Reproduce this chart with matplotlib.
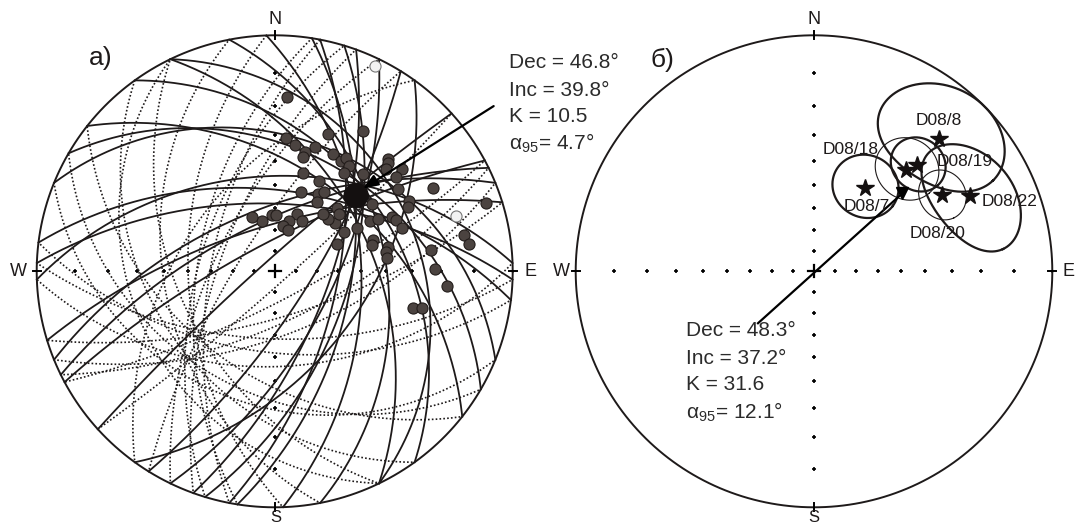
import numpy as np
import matplotlib
matplotlib.use("Agg")
import matplotlib.pyplot as plt

plt.rcParams['font.family'] = ['Liberation Sans', 'DejaVu Sans']
plt.rcParams['mathtext.fontset'] = 'custom'
plt.rcParams['mathtext.rm'] = 'Liberation Sans'
plt.rcParams['mathtext.it'] = 'Liberation Sans:italic'

# ---- panel a: ChRM directions (lower hemisphere) ----
dec_a = [4, 5, 9, 14, 18, 14, 21, 32, 26, 31, 32, 35, 35, 16, 26, 18, 29, 32, 31, 42,
         45, 46, 47, 51, 52, 56, 62, 62, 64, 72, 79, 82, 82, 89, 95, 105, 104, 78, 80, 83,
         72, 75, 62, 60, 66, 51, 45, 40, 44, 48, 55, 62, 63, 65, 67, 71, 21, 28, 16, 10,
         18, 357, 346, 1, 337]
inc_a = [17, 31, 33, 35, 32, 37, 26, 20, 32, 33, 31, 33, 36, 43, 44, 51, 49, 47, 52, 32,
         22, 23, 25, 21, 24, 26, 16, 25, 26, 4, 12, 11, 23, 22, 18, 28, 25, 38, 39, 39,
         43, 44, 47, 53, 58, 54, 55, 55, 49, 50, 37, 41, 38, 33, 32, 31, 61, 63, 65, 68,
         69, 63, 65, 63, 62]
# upper hemisphere (open symbols)
dec_up = [26, 73]
inc_up = [-2, -13]

# remagnetization great circles: dip direction / dip
gc_dipdir = [79, 99, 101, 107, 110, 318, 332, 334, 338, 343, 358, 7, 30, 38, 54, 64,
             116, 122, 2, 88, 64, 22, 126]
gc_dip = [40, 54, 60, 55, 64, 84, 76, 66, 60, 68, 46, 52, 36, 44, 36, 46,
          62, 73, 58, 50, 28, 31, 48]

mean_a = (46.8, 39.8, 10.5, 4.7)   # dec, inc, K, a95

# ---- panel b: site means ----
site_names = ['D08/7', 'D08/18', 'D08/19', 'D08/8', 'D08/20', 'D08/22']
site_dec = [31, 42, 44, 43, 59, 64]
site_inc = [45, 30, 26, 15, 26, 18]
site_major = [14, 12, 10, 21, 9, 20]     # oval semi-axes, degrees
site_minor = [13, 11, 9, 15, 8, 12.5]
site_rot = [0, 0, 0, 13, 0, 13]          # major-axis rotation from dec direction
mean_b = (48.3, 37.2, 31.6, 12.1)

tick_inc = [10, 20, 30, 40, 50, 60, 70, 80]

W, H = 1075, 526
fig = plt.figure(figsize=(W / 100, H / 100), dpi=100)
INK = '#1e1a1a'


def px_axes(x0, x1, y0, y1):
    ax = fig.add_axes([x0 / W, 1 - y1 / H, (x1 - x0) / W, (y1 - y0) / H])
    ax.set_xlim(-1, 1)
    ax.set_ylim(-1, 1)
    ax.axis('off')
    return ax


def ftext(x, y, s, **kw):
    fig.text(x / W, 1 - y / H, s, **kw)


def vec(dec, inc):
    d, i = np.radians(dec), np.radians(inc)
    return np.array([np.cos(i) * np.cos(d), np.cos(i) * np.sin(d), np.sin(i)])


def proj(v):
    n, e, z = v
    return e / (1 + np.abs(z)), n / (1 + np.abs(z))


def proj_di(dec, inc):
    return proj(vec(np.asarray(dec, float), np.asarray(inc, float)))


def net(ax):
    t = np.linspace(0, 2 * np.pi, 500)
    ax.plot(np.cos(t), np.sin(t), color=INK, lw=1.4, clip_on=False)
    r = np.tan(np.radians(90 - np.array(tick_inc)) / 2)
    for sx, sy in [(1, 0), (-1, 0), (0, 1), (0, -1)]:
        ax.plot(sx * r, sy * r, '+', color='k', ms=3.5, mew=1.2, clip_on=False)
    # short marks where the axes meet the primitive
    ax.plot([0.983, 1.017], [0, 0], color='k', lw=1.4, clip_on=False)
    ax.plot([-0.983, -1.017], [0, 0], color='k', lw=1.4, clip_on=False)
    ax.plot([0, 0], [0.983, 1.017], color='k', lw=1.4, clip_on=False)
    ax.plot([0, 0], [-0.983, -1.017], color='k', lw=1.4, clip_on=False)
    ax.plot([-0.025, 0.025], [0, 0], color='k', lw=1.6)
    ax.plot([0, 0], [-0.025, 0.025], color='k', lw=1.6)


def cardinal(cx, wx, ex):
    kw = dict(fontsize=13, ha='center', va='center', color=INK)
    ftext(cx, 20, 'N', **kw)
    ftext(cx, 517, 'S', fontsize=12, ha='center', va='center', color=INK)
    ftext(wx, 272, 'W', **kw)
    ftext(ex, 272, 'E', **kw)


# ================= panel a =================
axL = px_axes(36.7, 512.7, 35.3, 507.3)
net(axL)

t = np.linspace(0, 2 * np.pi, 721)
for dd, dp in zip(gc_dipdir, gc_dip):
    s = vec(dd - 90, 0)
    dv = vec(dd, dp)
    pts = np.outer(np.cos(t), s) + np.outer(np.sin(t), dv)
    low = t <= np.pi
    x, y = proj(pts.T)
    axL.plot(x[low], y[low], color=INK, lw=1.3, clip_on=False)
    axL.plot(x[~low], y[~low], color=INK, lw=1.2, ls=(0, (1, 1.3)), clip_on=False)

x, y = proj_di(dec_a, inc_a)
axL.plot(x, y, 'o', ms=8, mfc='#4b4340', mec='#231d1b', mew=0.8, zorder=5)
x, y = proj_di(dec_up, np.abs(inc_up))
axL.plot(x, y, 'o', ms=8, mfc='#f2f2f2', mec='#777777', mew=0.8, zorder=5)

# mean with a95 circle
m = vec(mean_a[0], mean_a[1])
e1 = vec(mean_a[0] + 90, 0)
e2 = np.cross(m, e1)
a = np.radians(mean_a[3])
circ = np.outer(np.cos(a) * np.ones_like(t), m) + np.sin(a) * (np.outer(np.cos(t), e1) + np.outer(np.sin(t), e2))
cx_, cy_ = proj(circ.T)
axL.fill(cx_, cy_, color='#141010', zorder=6)
mx, my = proj(m)
axL.annotate('', xy=(mx + 0.03, my + 0.03), xytext=(0.92, 0.70),
             arrowprops=dict(arrowstyle='-|>,head_length=0.9,head_width=0.35', lw=1.6,
                             color='k', shrinkA=0, shrinkB=0), zorder=7)

cardinal(275.5, 18, 530)
ftext(101, 58, 'а)', fontsize=19, ha='center', va='center', color=INK)
tk = dict(fontsize=15, ha='left', va='center', color='#2b2b2b')
ftext(509, 63, f'Dec = {mean_a[0]}°', **tk)
ftext(509, 90, f'Inc = {mean_a[1]}°', **tk)
ftext(509, 117, f'K = {mean_a[2]}', **tk)
ftext(509, 143, 'α$_{95}$= ' + f'{mean_a[3]}°', **tk)

# ================= panel b =================
axR = px_axes(575.7, 1052.3, 35.3, 507.3)
net(axR)

lab_off = {'D08/7': (2, -19), 'D08/18': (-55, 21), 'D08/19': (47, 4),
           'D08/8': (0, 18), 'D08/20': (-4, -38), 'D08/22': (40, -5)}
thin = {'D08/18', 'D08/20'}
for nm, d, i, A, B, rot in zip(site_names, site_dec, site_inc, site_major, site_minor, site_rot):
    v = vec(d, i)
    e_dec = vec(d + 90, 0)
    e_out = np.cross(e_dec, v)
    e_out = e_out if e_out[2] < 0 else -e_out
    r = np.radians(rot)
    ax1 = np.cos(r) * e_dec + np.sin(r) * e_out
    ax2 = -np.sin(r) * e_dec + np.cos(r) * e_out
    o = np.outer(np.radians(A) * np.cos(t), ax1) + np.outer(np.radians(B) * np.sin(t), ax2)
    p = v + o
    p = p / np.linalg.norm(p, axis=1)[:, None]
    ex, ey = proj(p.T)
    axR.plot(ex, ey, color=INK, lw=0.8 if nm in thin else 1.6)
    sx, sy = proj(v)
    axR.plot(sx, sy, '*', ms=13, color='#141010', mec='#141010', zorder=5)
    axR.annotate(nm, (sx, sy), xytext=lab_off[nm], textcoords='offset pixels',
                 ha='center', va='center', fontsize=12.5, color=INK)

mbx, mby = proj_di(mean_b[0], mean_b[1])
axR.plot(mbx, mby, 'v', ms=9, color='k', zorder=6)
axR.plot([mbx, -0.235], [mby, -0.22], color='k', lw=1.6)

cardinal(814, 561, 1068)
ftext(662, 60, 'б)', fontsize=19, ha='center', va='center', color=INK)
ftext(686, 331, f'Dec = {mean_b[0]}°', **tk)
ftext(686, 358, f'Inc = {mean_b[1]}°', **tk)
ftext(686, 385, f'K = {mean_b[2]}', **tk)
ftext(686, 412, 'α$_{95}$= ' + f'{mean_b[3]}°', **tk)

fig.savefig('out.png', dpi=100)
